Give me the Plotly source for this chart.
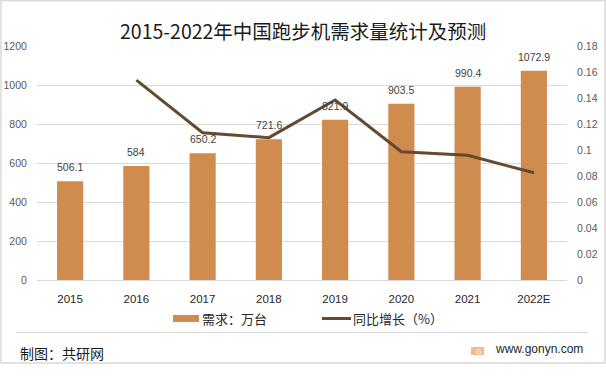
import plotly.graph_objects as go

W, H = 606, 378
L, R, T, B = 37, 567, 46, 280

categories = ["2015", "2016", "2017", "2018", "2019", "2020", "2021", "2022E"]
demand = [506.1, 584, 650.2, 721.6, 821.9, 903.5, 990.4, 1072.9]
growth = [None, 0.1538, 0.1133, 0.1095, 0.1385, 0.0987, 0.0959, 0.0825]
bar_labels = ["506.1", "584", "650.2", "721.6", "821.9", "903.5", "990.4", "1072.9"]
left_ticks = [0, 200, 400, 600, 800, 1000, 1200]
right_ticks = [0, 0.02, 0.04, 0.06, 0.08, 0.1, 0.12, 0.14, 0.16, 0.18]
right_tick_labels = ["0", "0.02", "0.04", "0.06", "0.08", "0.1", "0.12", "0.14", "0.16", "0.18"]

FONT = "Noto Sans CJK SC"
BAR = "#D08C4F"
LINE = "#644A32"
fig = go.Figure()
fig.add_bar(x=categories, y=demand, name="需求：万台", marker=dict(color=BAR, line_width=0), width=0.395)
fig.add_scatter(x=categories, y=growth, name="同比增长（%）", yaxis="y2", mode="lines",
                line=dict(color=LINE, width=3), connectgaps=False)

def px(x): return (x - L) / (R - L)
def py(y): return (B - y) / (B - T)

def box(x0, y0, x1, y1, **kw):
    return dict(type="rect", xref="paper", yref="paper", x0=px(x0), x1=px(x1),
                y0=py(y1), y1=py(y0), layer="below", **kw)

shapes = [
    box(1, 0.5, 605, 363, line=dict(color="#D9D9D9", width=1.5), fillcolor="white"),
    dict(type="line", xref="paper", yref="paper", x0=px(16), x1=px(588), y0=py(332.5), y1=py(332.5),
         line=dict(color="#D9D9D9", width=1)),
    box(471, 347, 484, 355, line_width=0, fillcolor="#F6B98C"),
    box(173, 315, 199, 322, line_width=0, fillcolor=BAR),
    dict(type="line", xref="paper", yref="paper", x0=px(322), x1=px(351), y0=py(318.5), y1=py(318.5),
         line=dict(color=LINE, width=3)),
]

def note(text, x, y, size, color="#262626", anchor="left", family=FONT):
    return dict(text=text, x=px(x), y=py(y), xref="paper", yref="paper", showarrow=False,
                xanchor=anchor, yanchor="middle", font=dict(size=size, color=color, family=family))

annotations = [
    note("2015-2022年中国跑步机需求量统计及预测", 303, 30, 19.5, "#1A1A1A", "center"),
    note("需求：万台", 200, 318, 13),
    note("同比增长（%）", 351, 318, 13),
    note("制图：共研网", 18, 352.5, 14, "#1A1A1A"),
    note("www.gonyn.com", 585, 349, 12, "#262626", "right", "Liberation Sans"),
    note("G", 478, 351, 7, "white", "center", "Liberation Sans"),
]
for i, (val, lab) in enumerate(zip(demand, bar_labels)):
    annotations.append(dict(x=i, y=val, xref="x", yref="y", text=lab, showarrow=False, yshift=14,
                            yanchor="middle", font=dict(size=10.5, color="#404040", family="Liberation Sans")))

fig.update_layout(
    width=W, height=H, autosize=False, showlegend=False,
    paper_bgcolor="white", plot_bgcolor="rgba(0,0,0,0)",
    margin=dict(l=L, r=W - R, t=T, b=H - B),
    bargap=0.6, shapes=shapes, annotations=annotations,
    font=dict(family="Liberation Sans"),
    xaxis=dict(type="category", categoryorder="array", categoryarray=categories, range=[-0.5, 7.5],
               automargin=False, showgrid=False, showline=False, ticks="outside", ticklen=8,
               tickcolor="rgba(0,0,0,0)", tickfont=dict(size=11.5, color="#262626")),
    yaxis=dict(range=[0, 1200], tickvals=left_ticks, showgrid=True, gridcolor="#D9D9D9", gridwidth=1,
               automargin=False, zeroline=True, zerolinecolor="#D9D9D9", zerolinewidth=1, ticks="outside",
               ticklen=7, tickcolor="rgba(0,0,0,0)", tickfont=dict(size=10.5, color="#595959")),
    yaxis2=dict(range=[0, 0.18], overlaying="y", side="right", tickvals=right_ticks, automargin=False,
                ticktext=right_tick_labels, showgrid=False, zeroline=False, ticks="outside", ticklen=7,
                tickcolor="rgba(0,0,0,0)", tickfont=dict(size=10.5, color="#595959")),
)
fig.write_html("out.html", config={"displayModeBar": False}, post_script="document.body.style.margin='0';")
